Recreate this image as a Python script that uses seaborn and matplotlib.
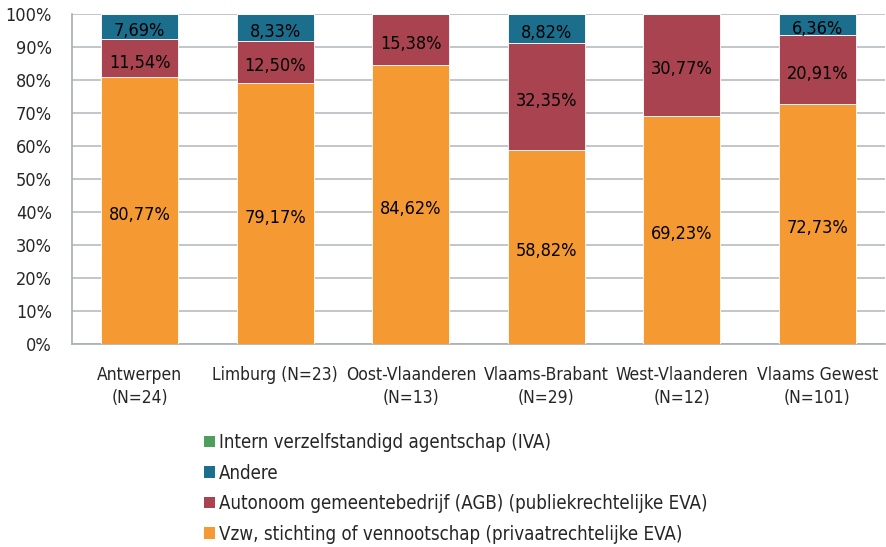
import pandas as pd
import numpy as np
import matplotlib
matplotlib.use("Agg")
import matplotlib.pyplot as plt
import seaborn as sns
from matplotlib.patches import Patch

# data (percentages)
regios = ["Antwerpen\n(N=24)", "Limburg (N=23)", "Oost-Vlaanderen\n(N=13)",
          "Vlaams-Brabant\n(N=29)", "West-Vlaanderen\n(N=12)", "Vlaams Gewest\n(N=101)"]
vzw = [80.77, 79.17, 84.62, 58.82, 69.23, 72.73]
agb = [11.54, 12.50, 15.38, 32.35, 30.77, 20.91]
andere = [7.69, 8.33, 0.0, 8.82, 0.0, 6.36]
iva = [0.0, 0.0, 0.0, 0.0, 0.0, 0.0]

reeksen = ["Vzw, stichting of vennootschap (privaatrechtelijke EVA)",
           "Autonoom gemeentebedrijf (AGB) (publiekrechtelijke EVA)",
           "Andere",
           "Intern verzelfstandigd agentschap (IVA)"]
kleuren = ["#F59A33", "#A8434F", "#1C6E8D", "#4E9E5E"]

df = pd.DataFrame({"regio": regios, reeksen[0]: vzw, reeksen[1]: agb,
                   reeksen[2]: andere, reeksen[3]: iva})

sns.set_style("white")
plt.rcParams["font.family"] = ["DejaVu Sans"]
plt.rcParams["font.stretch"] = "condensed"

fig = plt.figure(figsize=(8.86, 5.47), dpi=100)
ax = fig.add_axes([0.0813, 0.371, 0.9177, 0.6034])

bottom = np.zeros(len(regios))
for naam, kleur in zip(reeksen, kleuren):
    vals = df[naam].values
    sns.barplot(x=df["regio"], y=vals, bottom=bottom, color=kleur, saturation=1,
                width=0.57, edgecolor="white", linewidth=0.6, ax=ax, zorder=3)
    for i, v in enumerate(vals):
        if v > 0:
            ax.annotate(f"{v:.2f}%".replace(".", ","), (i, bottom[i] + v / 2),
                        xytext=(0, -3), textcoords="offset points",
                        ha="center", va="center", fontsize=13, color="black", zorder=4)
    bottom = bottom + vals

ax.set_ylim(0, 100)
ax.set_xlim(-0.5, len(regios) - 0.5)
ax.set_yticks(np.arange(0, 101, 10))
ax.set_yticklabels([f"{t}%" for t in range(0, 101, 10)], fontsize=13)
ax.tick_params(axis="x", labelsize=12.5, length=0, pad=15.5)
ax.tick_params(axis="y", length=0, pad=14.5)
for lab in ax.get_xticklabels():
    lab.set_linespacing(1.4)
ax.set_xlabel("")
ax.set_ylabel("")
ax.yaxis.grid(True, color="#B8BCBF", linewidth=1.2, zorder=0)
ax.set_axisbelow(True)
for s in ["top", "right"]:
    ax.spines[s].set_visible(False)
ax.spines["left"].set_color("#A9AEB2")
ax.spines["bottom"].set_color("#A9AEB2")
ax.spines["left"].set_linewidth(1.2)
ax.spines["bottom"].set_linewidth(1.2)

handles = [Patch(facecolor=k, edgecolor="none") for k in kleuren][::-1]
fig.legend(handles, reeksen[::-1], loc="upper left", bbox_to_anchor=(0.222, 0.222),
           frameon=False, fontsize=13.4, handlelength=0.6, handleheight=0.6,
           handletextpad=0.2, labelspacing=0.62, borderaxespad=0)

fig.savefig("out.png", dpi=100)
